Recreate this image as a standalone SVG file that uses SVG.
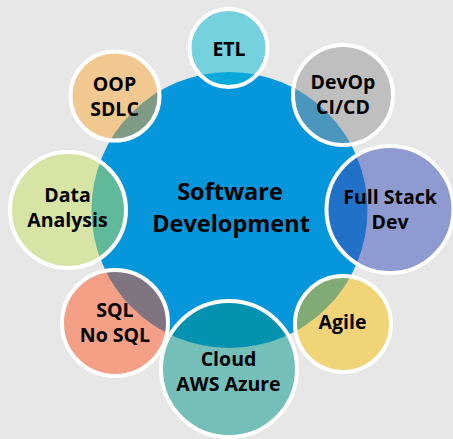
<svg xmlns="http://www.w3.org/2000/svg" width="453" height="439" viewBox="0 0 453 439">
<style>
.ring{fill:none;stroke:#FFFFFF;stroke-width:4}
.t{font-family:"Open Sans","Noto Sans","DejaVu Sans",sans-serif;font-weight:bold;font-size:19.5px;fill:#000000;text-anchor:middle}
.tc{font-size:23.5px}
</style>
<defs>
<clipPath id="cEtl"><circle cx="228.5" cy="48" r="39"/></clipPath>
<clipPath id="cOop"><circle cx="115" cy="96" r="44.5"/></clipPath>
<clipPath id="cDev"><circle cx="343" cy="95" r="50"/></clipPath>
<clipPath id="cData"><circle cx="68" cy="210" r="58"/></clipPath>
<clipPath id="cFull"><circle cx="390" cy="209.5" r="63.5"/></clipPath>
<clipPath id="cSql"><circle cx="115" cy="323" r="53"/></clipPath>
<clipPath id="cCloud"><circle cx="229" cy="369" r="68"/></clipPath>
<clipPath id="cAgile"><circle cx="343" cy="324" r="48"/></clipPath>
</defs>
<rect x="0" y="0" width="453" height="439" fill="#E7E7E7"/>
<g id="center">
<circle cx="229.5" cy="210" r="138" fill="#0696DC"/>
<text class="t tc" x="230" y="200">Software</text>
<text class="t tc" x="231" y="232">Development</text>
</g>
<g id="etl">
<circle cx="228.5" cy="48" r="39" fill="#75D1DD"/>
<circle cx="229.5" cy="210" r="138" fill="#06A9D9" clip-path="url(#cEtl)"/>
<circle class="ring" cx="228.5" cy="48" r="39"/>
<text class="t" x="229" y="56">ETL</text>
</g>
<g id="oop">
<circle cx="115" cy="96" r="44.5" fill="#F2C891"/>
<circle cx="229.5" cy="210" r="138" fill="#7F9A85" clip-path="url(#cOop)"/>
<circle class="ring" cx="115" cy="96" r="44.5"/>
<text class="t" x="114.5" y="90.5">OOP</text>
<text class="t" x="114.5" y="116">SDLC</text>
</g>
<g id="devop">
<circle cx="343" cy="95" r="50" fill="#BFBFBF"/>
<circle cx="229.5" cy="210" r="138" fill="#4B96BD" clip-path="url(#cDev)"/>
<circle class="ring" cx="343" cy="95" r="50"/>
<text class="t" x="343" y="88.5">DevOp</text>
<text class="t" x="343" y="113.5">CI/CD</text>
</g>
<g id="data">
<circle cx="68" cy="210" r="58" fill="#D6E4A6"/>
<circle cx="229.5" cy="210" r="138" fill="#60B99B" clip-path="url(#cData)"/>
<circle class="ring" cx="68" cy="210" r="58"/>
<text class="t" x="67.5" y="201.5">Data</text>
<text class="t" x="67.5" y="226.5">Analysis</text>
</g>
<g id="fullstack">
<circle cx="390" cy="209.5" r="63.5" fill="#8F9BD0"/>
<circle cx="229.5" cy="210" r="138" fill="#2271C9" clip-path="url(#cFull)"/>
<circle class="ring" cx="390" cy="209.5" r="63.5"/>
<text class="t" x="390" y="203.5">Full Stack</text>
<text class="t" x="390" y="228.5">Dev</text>
</g>
<g id="sql">
<circle cx="115" cy="323" r="53" fill="#F3A086"/>
<circle cx="229.5" cy="210" r="138" fill="#7F7480" clip-path="url(#cSql)"/>
<circle class="ring" cx="115" cy="323" r="53"/>
<text class="t" x="115" y="317">SQL</text>
<text class="t" x="115" y="342">No SQL</text>
</g>
<g id="agile">
<circle cx="343" cy="324" r="48" fill="#F2D478"/>
<circle cx="229.5" cy="210" r="138" fill="#82AA74" clip-path="url(#cAgile)"/>
<circle class="ring" cx="343" cy="324" r="48"/>
<text class="t" x="342.5" y="329">Agile</text>
</g>
<g id="cloud">
<circle cx="229" cy="369" r="68" fill="#74BFB8"/>
<circle cx="229.5" cy="210" r="138" fill="#0393B0" clip-path="url(#cCloud)"/>
<circle class="ring" cx="229" cy="369" r="68"/>
<text class="t" x="228.5" y="366">Cloud</text>
<text class="t" x="228.5" y="391">AWS Azure</text>
</g>
</svg>
